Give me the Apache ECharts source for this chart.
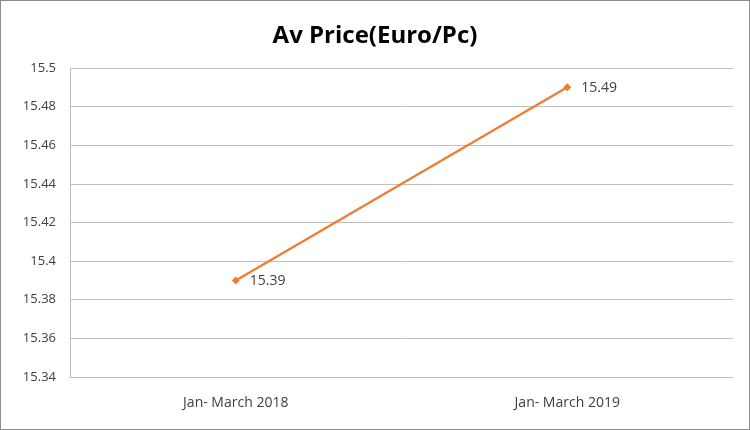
<!DOCTYPE html>
<html><head><meta charset="utf-8">
<script src="https://cdn.jsdelivr.net/npm/echarts@6/dist/echarts.min.js"></script>
<style>
html,body{margin:0;padding:0;background:#fff;}
#wrap{position:absolute;left:0;top:0;width:748px;height:428px;border:1px solid #8c8c8c;}
#chart{width:748px;height:428px;}
</style></head>
<body><div id="wrap"><div id="chart"></div></div>
<script>
const categories = ["Jan- March 2018", "Jan- March 2019"];
const avPrice = [15.39, 15.49];
const yTicks = { min: 15.34, max: 15.5, interval: 0.02 };

const chart = echarts.init(document.getElementById('chart'));
chart.setOption({
  animation: false,
  title: {
    text: 'Av Price(Euro/Pc)', left: 'center', top: 18,
    textStyle: { fontFamily: 'Liberation Sans Narrow, Open Sans, sans-serif', fontWeight: 'bold', fontSize: 24, color: '#000' }
  },
  grid: { left: 69, right: 16, top: 67, bottom: 52 },
  xAxis: {
    type: 'category', data: categories, boundaryGap: true,
    axisLine: { show: true, lineStyle: { color: '#bfbfbf', width: 1 } },
    axisTick: { show: false },
    axisLabel: { color: '#404040', fontSize: 14, margin: 19, fontFamily: 'Open Sans, sans-serif' }
  },
  yAxis: {
    type: 'value', min: yTicks.min, max: yTicks.max, interval: yTicks.interval,
    axisLine: { show: true, lineStyle: { color: '#bfbfbf', width: 1 } },
    axisTick: { show: false },
    splitLine: { lineStyle: { color: '#bfbfbf', width: 1 } },
    axisLabel: { color: '#404040', fontSize: 13, margin: 14, fontFamily: 'Open Sans, sans-serif',
      formatter: v => String(parseFloat(v.toFixed(2))) }
  },
  series: [{
    type: 'line', data: avPrice,
    symbol: 'diamond', symbolSize: 8,
    lineStyle: { color: '#ed7d31', width: 2.25 },
    itemStyle: { color: '#ed7d31' },
    label: { show: true, position: 'right', distance: 10, offset: [0, 1], color: '#404040', fontSize: 14, fontFamily: 'Open Sans, sans-serif' }
  }]
});
</script></body></html>
